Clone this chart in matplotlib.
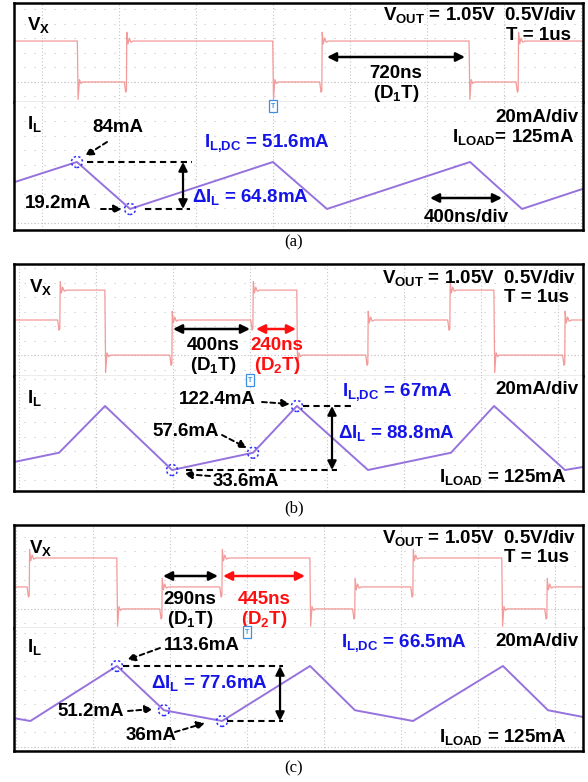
import matplotlib
matplotlib.use("Agg")
import matplotlib.pyplot as plt
from matplotlib.patches import Ellipse

plt.rcParams["font.family"] = ["Liberation Sans", "DejaVu Sans"]
plt.rcParams["font.weight"] = "bold"
plt.rcParams["mathtext.fontset"] = "custom"
plt.rcParams["mathtext.rm"] = "Liberation Sans:bold"
plt.rcParams["mathtext.it"] = "Liberation Sans:bold"
plt.rcParams["mathtext.bf"] = "Liberation Sans:bold"

W, H = 588, 782
NS_PER_PX = 400 / 77.0
T_END = 569 * NS_PER_PX

# (a) single output: Vx edge times (ns), level before / after each edge (V)
a_vx_edges = [330, 585, 1345, 1600, 2365, 2620]
a_vx_levels = [1.41, 0.0, 1.41, 0.0, 1.41, 0.0, 1.41]
a_il_t = [0, 327, 603, 1345, 1626, 2369, 2639, T_END]
a_il_ma = [56.0, 84.0, 19.2, 84.0, 19.2, 84.0, 19.2, 47.0]

# (b)
b_vx_edges = [239, 473, 821, 1242, 1470, 1839, 2265, 2494, 2862]
b_vx_levels = [1.21, 2.24, 0.0, 1.21, 2.24, 0.0, 1.21, 2.24, 0.0, 1.21]
b_il_t = [0, 234, 473, 821, 1242, 1470, 1839, 2270, 2494, 2862, T_END]
b_il_ma = [44.7, 57.6, 122.4, 33.6, 57.6, 122.4, 33.6, 57.6, 122.4, 33.6, 37.8]

# (c)
c_vx_edges = [80, 535, 769, 1081, 1538, 1771, 2073, 2535, 2769]
c_vx_levels = [0.76, 1.76, 0.0, 0.76, 1.76, 0.0, 0.76, 1.76, 0.0, 0.76]
c_il_t = [0, 85, 535, 779, 1081, 1538, 1771, 2073, 2540, 2774, T_END]
c_il_ma = [40.0, 36.0, 113.6, 51.2, 36.0, 113.6, 51.2, 36.0, 113.6, 51.2, 41.7]

BLUE = "#1414e8"
RED = "#ff1010"
VX_COL = "#f39a9a"
IL_COL = "#9672dc"
GRID = "#c4c4c4"
FS = 13.5

fig = plt.figure(figsize=(W / 100, H / 100), dpi=100)


def box(x0, y0, x1, y1):
    return [x0 / W, 1 - y1 / H, (x1 - x0) / W, (y1 - y0) / H]


def vx_trace(edges, levels):
    t, v = [0.0], [levels[0]]
    for i, e in enumerate(edges):
        lo, hi = levels[i], levels[i + 1]
        if hi > lo:
            t += [e - 12, e - 5, e - 1, e + 1, e + 7, e + 14, e + 22, e + 34]
            v += [lo, lo - 0.35, lo - 0.3, hi + 0.3, hi - 0.1, hi + 0.1, hi - 0.04, hi]
        else:
            t += [e - 1, e + 3, e + 10, e + 18, e + 28]
            v += [lo, hi - 0.6, hi + 0.08, hi - 0.05, hi]
    t.append(T_END)
    v.append(levels[-1])
    return t, v


def panel(y0, ydiv, y1, trig, edges, levels, vlim, il_t, il_ma, ilim):
    av = fig.add_axes(box(14, y0, 583, ydiv))
    ai = fig.add_axes(box(14, ydiv, 583, y1))
    for ax in (av, ai):
        ax.set_xlim(0, T_END)
        ax.set_xticks([])
        ax.set_yticks([])
        for k in range(-8, 9):
            x = trig + k * 400
            if 0 < x < T_END:
                ax.axvline(x, color=GRID, lw=0.8, ls=(0, (1, 2)), zorder=0)
        for s in ax.spines.values():
            s.set_linewidth(1.8)
    av.set_ylim(*vlim)
    ai.set_ylim(*ilim)
    av.spines["bottom"].set_color("#a0a0a0")
    av.spines["bottom"].set_linewidth(1.0)
    ai.spines["top"].set_visible(False)
    k = -2.0
    while k < vlim[1]:
        av.axhline(k, color=GRID, lw=0.8, ls=(0, (1, 8)), zorder=0)
        k += 0.5
    av.axhline(0, color=GRID, lw=0.8, ls=(0, (1, 2)), zorder=0)
    for m in range(0, 180, 20):
        ai.axhline(m, color=GRID, lw=0.8, ls=(0, (1, 8)), zorder=0)
    ai.axhline(0, color=GRID, lw=0.8, ls=(0, (1, 2)), zorder=0)
    t, v = vx_trace(edges, levels)
    av.plot(t, v, color=VX_COL, lw=0.9)
    ai.plot(il_t, il_ma, color=IL_COL, lw=1.4)
    return av, ai


def circle(ax, t, ma):
    ax.add_patch(Ellipse((t, ma), 11 * NS_PER_PX, 11 / 0.72, fill=False,
                         ec="#2d2dff", lw=1.1, ls=(0, (1.5, 1.5)), zorder=5))


def level_line(ax, ma, t0, t1):
    ax.hlines(ma, t0, t1, colors="k", linestyles=(0, (3, 2)), lw=1.5, zorder=4)


def vspan_arrow(ax, t, hi, lo):
    ax.annotate("", xy=(t, hi), xytext=(t, lo),
                arrowprops=dict(arrowstyle="<|-|>", color="k", lw=1.6,
                                mutation_scale=13, shrinkA=0, shrinkB=0))


pa = panel(3, 102, 230, 1345, a_vx_edges, a_vx_levels, (-0.69, 2.72),
           a_il_t, a_il_ma, (-9.8, 166.7))
pb = panel(264, 376, 491, 1226, b_vx_edges, b_vx_levels, (-0.72, 3.14),
           b_il_t, b_il_ma, (4.5, 164.0))
pc = panel(525, 628, 751, 1210, c_vx_edges, c_vx_levels, (-0.66, 2.90),
           c_il_t, c_il_ma, (-6.3, 167.2))

# markers on the inductor current
ai = pa[1]
circle(ai, a_il_t[1], a_il_ma[1])
circle(ai, a_il_t[2], a_il_ma[2])
level_line(ai, a_il_ma[1], 379, 925)
level_line(ai, a_il_ma[2], 680, 914)
vspan_arrow(ai, 878, a_il_ma[1], a_il_ma[2])

ai = pb[1]
circle(ai, b_il_t[5], b_il_ma[5])
circle(ai, b_il_t[4], b_il_ma[4])
circle(ai, b_il_t[3], b_il_ma[3])
level_line(ai, b_il_ma[5], 1501, 1766)
level_line(ai, b_il_ma[3], 894, 1678)
vspan_arrow(ai, 1652, b_il_ma[5], b_il_ma[3])

ai = pc[1]
circle(ai, c_il_t[2], c_il_ma[2])
circle(ai, c_il_t[3], c_il_ma[3])
circle(ai, c_il_t[4], c_il_ma[4])
level_line(ai, c_il_ma[2], 566, 1397)
level_line(ai, c_il_ma[4], 1107, 1397)
vspan_arrow(ai, 1382, c_il_ma[2], c_il_ma[4])

# overlay in image pixels for labels
ov = fig.add_axes([0, 0, 1, 1])
ov.set_xlim(0, W)
ov.set_ylim(H, 0)
ov.axis("off")


def put(x, y, s, ha="left", color="k", fs=FS, weight="bold", **kw):
    ov.text(x, y, s, ha=ha, va="center", color=color, fontsize=fs,
            fontweight=weight, **kw)


def caption(y, s):
    put(294, y, s, ha="center", fs=12, weight="normal",
        family=["Liberation Serif", "DejaVu Serif"])


def darrow(x0, x1, y, color="k"):
    ov.annotate("", xy=(x1, y), xytext=(x0, y),
                arrowprops=dict(arrowstyle="<|-|>", color=color, lw=1.8,
                                mutation_scale=13, shrinkA=0, shrinkB=0))


def pointer(x0, y0, x1, y1):
    ov.annotate("", xy=(x1, y1), xytext=(x0, y0),
                arrowprops=dict(arrowstyle="-|>", color="k", lw=1.4,
                                ls=(0, (2.5, 1.8)), mutation_scale=12,
                                shrinkA=0, shrinkB=0))


def trig_mark(x, y):
    ov.text(x, y + 4, "T", ha="center", va="center", fontsize=5,
            color="#3d8fe0", fontweight="bold",
            bbox=dict(boxstyle="square,pad=0.3", fc="white", ec="#3d8fe0", lw=0.9))


# panel (a)
put(27, 25, r"$V_X$")
put(27, 124, r"$I_L$")
put(577, 15, r"$V_{OUT}$ = 1.05V  0.5V/div", ha="right")
put(571, 35, "T = 1us", ha="right")
darrow(327, 465, 57)
put(396, 73, "720ns", ha="center")
put(396, 93, "(D$_1$T)", ha="center")
put(579, 117, "20mA/div", ha="right")
put(574, 137, r"$I_{LOAD}$= 125mA", ha="right")
darrow(430, 502, 198)
put(466, 218, "400ns/div", ha="center")
put(92, 128, "84mA")
pointer(107, 142, 85, 156)
put(25, 203, "19.2mA")
pointer(101, 209, 122, 209)
put(204, 143, r"$I_{L{,}DC}$ = 51.6mA", color=BLUE)
put(192, 197, r"Δ$I_L$ = 64.8mA", color=BLUE)
trig_mark(273, 102)
caption(242, "(a)")

# panel (b)
put(29, 287, r"$V_X$")
put(27, 398, r"$I_L$")
put(576, 278, r"$V_{OUT}$ = 1.05V  0.5V/div", ha="right")
put(569, 298, "T = 1us", ha="right")
darrow(173, 250, 329)
put(213, 346, "400ns", ha="center")
put(213, 365, "(D$_1$T)", ha="center")
darrow(256, 296, 329, color=RED)
put(277, 346, "240ns", ha="center", color=RED)
put(277, 365, "(D$_2$T)", ha="center", color=RED)
put(578, 390, "20mA/div", ha="right")
put(342, 392, r"$I_{L{,}DC}$ = 67mA", color=BLUE)
put(338, 433, r"Δ$I_L$ = 88.8mA", color=BLUE)
put(566, 477, r"$I_{LOAD}$ = 125mA", ha="right")
put(217, 400, "122.4mA", ha="center")
pointer(262, 402, 290, 404)
put(186, 432, "57.6mA", ha="center")
pointer(222, 435, 247, 448)
put(246, 482, "33.6mA", ha="center")
pointer(210, 476, 184, 474)
trig_mark(250, 376)
caption(508, "(b)")

# panel (c)
put(29, 548, r"$V_X$")
put(27, 647, r"$I_L$")
put(576, 538, r"$V_{OUT}$ = 1.05V  0.5V/div", ha="right")
put(569, 558, "T = 1us", ha="right")
darrow(163, 218, 576)
put(190, 600, "290ns", ha="center")
put(190, 619, "(D$_1$T)", ha="center")
darrow(223, 305, 576, color=RED)
put(264, 600, "445ns", ha="center", color=RED)
put(264, 619, "(D$_2$T)", ha="center", color=RED)
put(341, 643, r"$I_{L{,}DC}$ = 66.5mA", color=BLUE)
put(578, 642, "20mA/div", ha="right")
put(151, 683, r"Δ$I_L$ = 77.6mA", color=BLUE)
put(566, 737, r"$I_{LOAD}$ = 125mA", ha="right")
put(202, 645, "113.6mA", ha="center")
pointer(160, 648, 127, 660)
put(91, 712, "51.2mA", ha="center")
pointer(128, 711, 153, 709)
put(151, 735, "36mA", ha="center")
pointer(175, 732, 205, 723)
trig_mark(247, 628)
caption(768, "(c)")

fig.savefig("out.png", dpi=100)
